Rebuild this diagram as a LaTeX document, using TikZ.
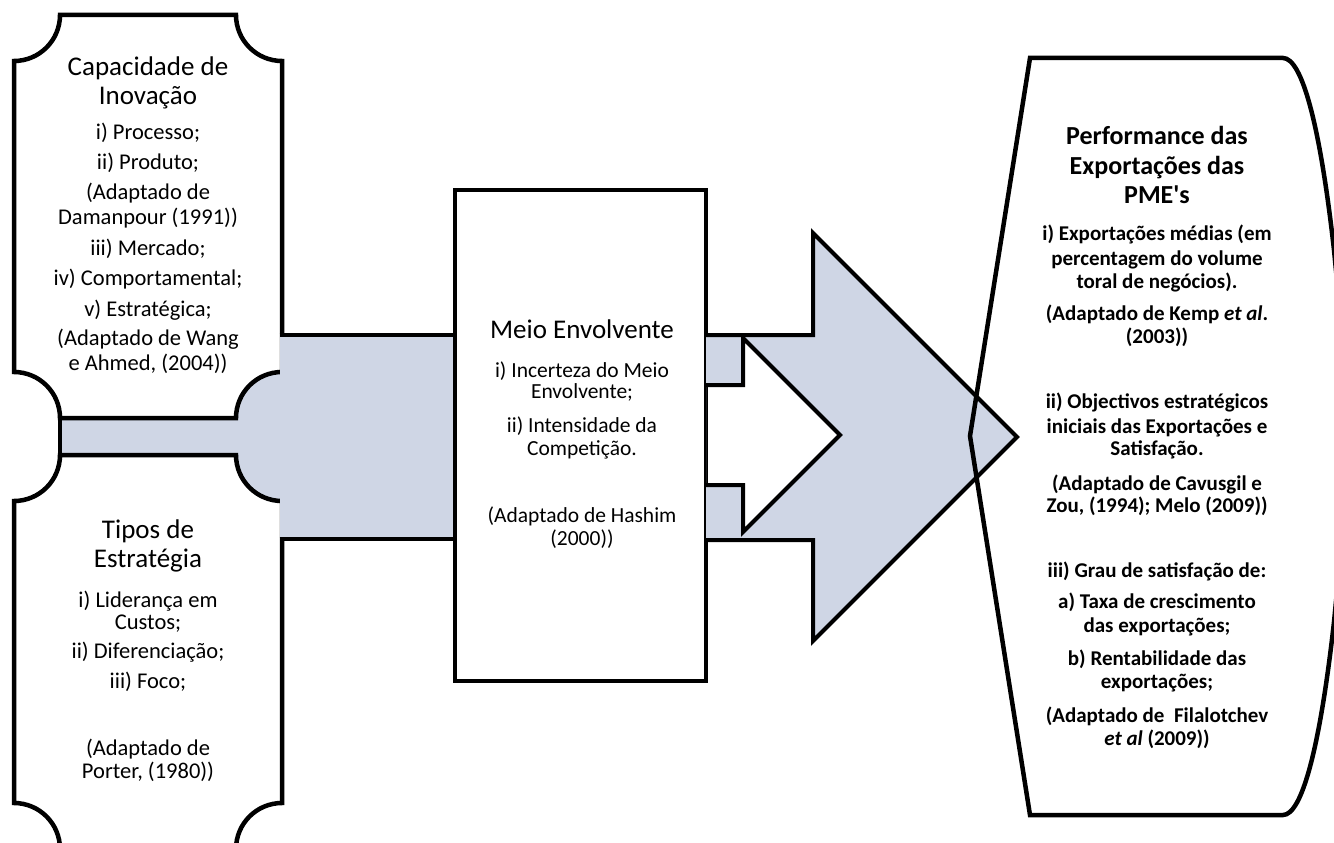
\documentclass[tikz,border=0pt]{standalone}
\usepackage{fontspec}
\setmainfont{Carlito}[Ligatures=TeXOff]
\definecolor{bandblue}{RGB}{207,214,229}
\begin{document}
\begin{tikzpicture}[x=1pt,y=-1pt,
  boxline/.style={draw=black, line width=4.5pt, line join=miter},
  edgeline/.style={draw=black, line width=3.5pt},
  arrowline/.style={draw=black, line width=4pt, line join=miter},
  ttl/.style={font=\fontsize{27}{27}\selectfont, anchor=base, inner sep=0pt},
  body/.style={font=\fontsize{22.5}{25}\selectfont, anchor=base, inner sep=0pt},
  mbody/.style={font=\fontsize{21.5}{22}\selectfont, anchor=base, inner sep=0pt},
  rttl/.style={font=\bfseries\fontsize{26}{26}\selectfont, anchor=base, inner sep=0pt},
  rbody/.style={font=\bfseries\fontsize{21}{22}\selectfont, anchor=base, inner sep=0pt}]
\useasboundingbox (0,0) rectangle (1334,843);
\clip (0,0) rectangle (1334,843);
\fill[white] (0,0) rectangle (1334,843);

% blue band behind the left boxes
\fill[bandblue] (60,335) rectangle (455,539);

% top-left box
\path[boxline, fill=white] (60,15) -- (236,15) .. controls (236,40.4) and (256.6,61) .. (282,61)
  -- (282,372) .. controls (256.6,372) and (236,392.6) .. (236,418)
  -- (60,418) .. controls (60,392.6) and (39.4,372) .. (14,372)
  -- (14,61) .. controls (39.4,61) and (60,40.4) .. (60,15) -- cycle;
% bottom-left box
\path[boxline, fill=white] (60,455) -- (236,455) .. controls (236,480.4) and (256.6,501) .. (282,501)
  -- (282,803) .. controls (256.6,803) and (236,823.6) .. (236,849)
  -- (60,849) .. controls (60,823.6) and (39.4,803) .. (14,803)
  -- (14,501) .. controls (39.4,501) and (60,480.4) .. (60,455) -- cycle;

% band in front of the boxes' right edges
\fill[bandblue] (279.5,335) rectangle (455,539);
\draw[edgeline] (279.5,335) -- (455,335);
\draw[edgeline] (279.5,539) -- (455,539);
\draw[boxline] (60,418) -- (60,455);

% middle box
\path[boxline, fill=white] (455,190) rectangle (706,681);

% big arrow
\fill[bandblue, even odd rule] (706,335) -- (813,335) -- (813,233) -- (1017,437) -- (813,641) -- (813,540) -- (706,540) -- cycle
  (706,385) -- (743,385) -- (743,338) -- (840,435) -- (743,532) -- (743,485) -- (706,485) -- cycle;
\draw[arrowline] (706,335) -- (813,335) -- (813,233) -- (1017,437) -- (813,641) -- (813,540) -- (706,540);
\draw[arrowline] (706,385) -- (743,385) -- (743,338) -- (840,435) -- (743,532) -- (743,485) -- (706,485);

% right box
\draw[boxline] (1030,58) -- (1283,58) .. controls (1302,58) and (1320,125) .. (1334,250)
  -- (1352,436) -- (1334,622) .. controls (1320,747) and (1302,815) .. (1283,815)
  -- (1030,815) -- (970,436) -- cycle;

% texts: top-left box
\foreach \txt/\yy [count=\k] in {{Capacidade de}/76, {Inovação}/104}
  \node[ttl] (capT\k) at (148,\yy) {\txt};
\foreach \txt/\yy [count=\k] in {{i) Processo;}/139.5, {ii) Produto;}/169.5, {(Adaptado de}/199.5,
  {Damanpour (1991))}/224.5, {iii) Mercado;}/255.5, {iv) Comportamental;}/285.5,
  {v) Estratégica;}/316.5, {(Adaptado de Wang}/345.5, {e Ahmed, (2004))}/370.5}
  \node[body] (capB\k) at (148,\yy) {\txt};

% texts: bottom-left box
\foreach \txt/\yy [count=\k] in {{Tipos de}/538, {Estratégia}/567}
  \node[ttl] (tipT\k) at (148,\yy) {\txt};
\foreach \txt/\yy [count=\k] in {{i) Liderança em}/607.5, {Custos;}/629, {ii) Diferenciação;}/658.5,
  {iii) Foco;}/688.5, {(Adaptado de}/755.5, {Porter, (1980))}/778.5}
  \node[body] (tipB\k) at (148,\yy) {\txt};

% texts: middle box
\node[ttl] (meioT) at (582,338) {Meio Envolvente};
\foreach \txt/\yy [count=\k] in {{i) Incerteza do Meio}/377, {Envolvente;}/398, {ii) Intensidade da}/432,
  {Competição.}/455, {(Adaptado de Hashim}/522, {(2000))}/545}
  \node[mbody] (meioB\k) at (582,\yy) {\txt};

% texts: right box
\foreach \txt/\yy [count=\k] in {{Performance das}/144, {Exportações das}/174, {PME's}/203}
  \node[rttl] (perfT\k) at (1157,\yy) {\txt};
\foreach \txt/\yy [count=\k] in {{i) Exportações médias (em}/240, {percentagem do volume}/265,
  {toral de negócios).}/288, {(Adaptado de Kemp \textit{et al}.}/320, {(2003))}/343,
  {ii) Objectivos estratégicos}/408, {iniciais das Exportações e}/433, {Satisfação.}/455,
  {(Adaptado de Cavusgil e}/490, {Zou, (1994); Melo (2009))}/512,
  {iii) Grau de satisfação de:}/577, {a) Taxa de crescimento}/608, {das exportações;}/632,
  {b) Rentabilidade das}/665, {exportações;}/688, {(Adaptado de~ Filalotchev}/722,
  {\textit{et al} (2009))}/745}
  \node[rbody] (perfB\k) at (1157,\yy) {\txt};
\end{tikzpicture}
\end{document}
